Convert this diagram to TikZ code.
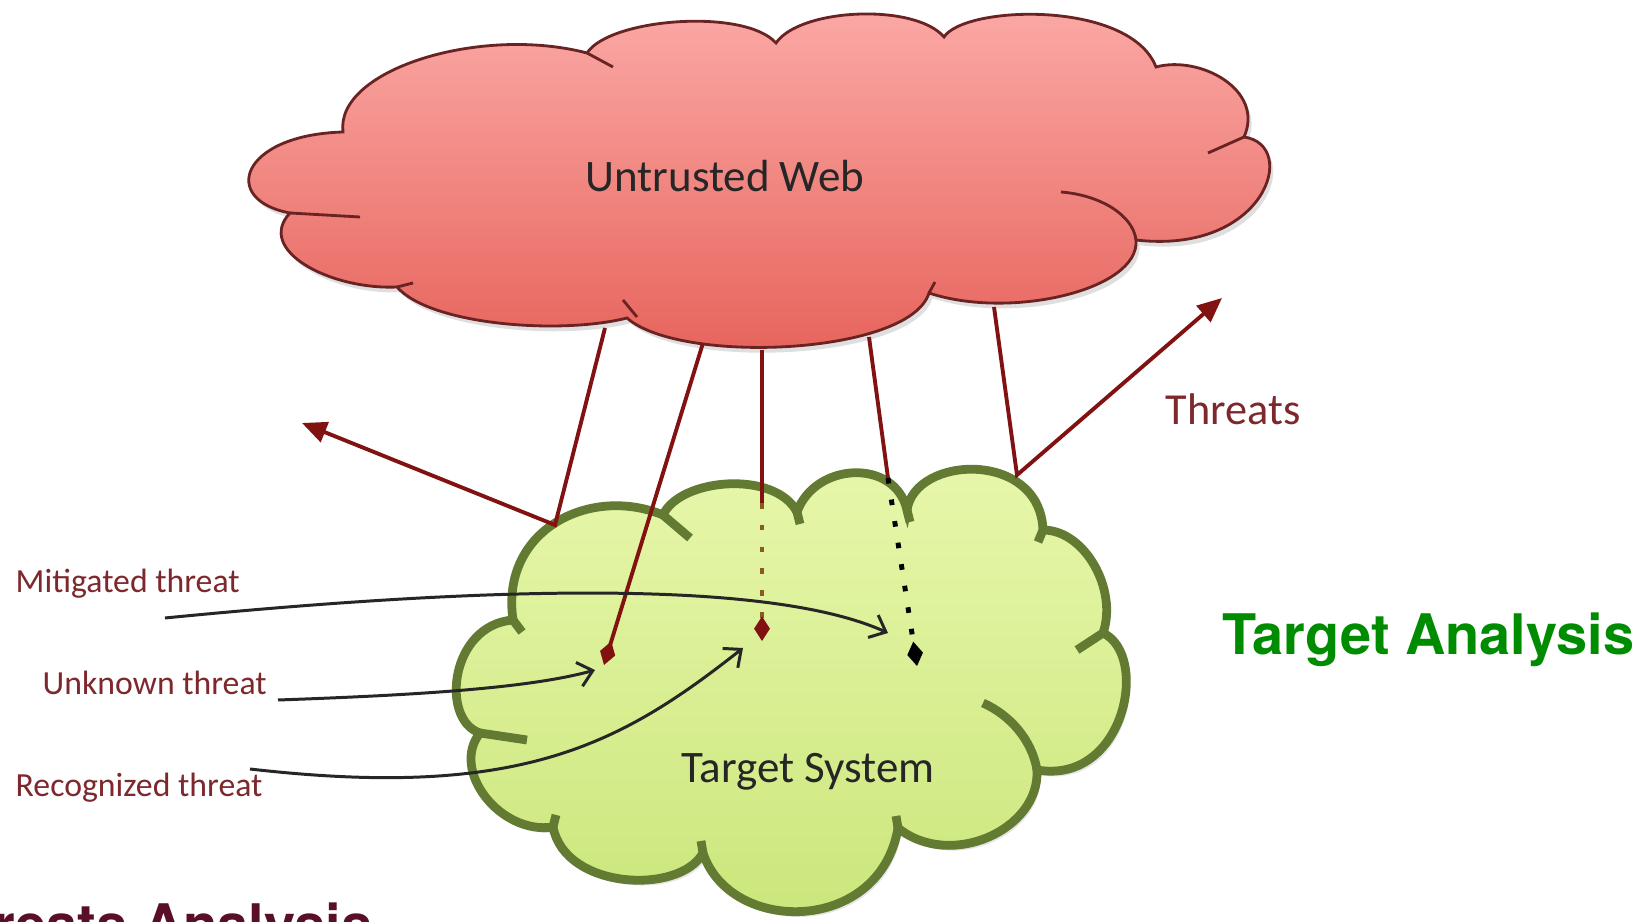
\documentclass[tikz,border=0pt]{standalone}
\usepackage{fontspec}
\setmainfont{Carlito}
\newfontfamily\headfont{TeX Gyre Heros}
\usetikzlibrary{arrows.meta, shadows}
\definecolor{webline}{RGB}{105,35,35}
\definecolor{webtop}{RGB}{251,170,167}
\definecolor{webbottom}{RGB}{230,98,90}
\definecolor{sysline}{RGB}{98,122,50}
\definecolor{systop}{RGB}{232,247,172}
\definecolor{sysbottom}{RGB}{202,230,122}
\definecolor{threatred}{RGB}{130,18,18}
\definecolor{labelred}{RGB}{125,40,45}
\definecolor{titlegreen}{RGB}{0,140,0}
\definecolor{titlemaroon}{RGB}{90,15,40}
\tikzset{
    webcloud/.style={draw=webline, line width=0.8pt, top color=webtop, bottom color=webbottom, drop shadow={opacity=0.25, shadow xshift=1pt, shadow yshift=-1.5pt}},
    syscloud/.style={draw=sysline, line width=2.5pt, top color=systop, bottom color=sysbottom, drop shadow={opacity=0.2, shadow xshift=1pt, shadow yshift=-1.5pt}},
    webcurl/.style={draw=webline, line width=0.8pt},
    syscurl/.style={draw=sysline, line width=2.5pt},
    threat/.style={draw=threatred, line width=1.1pt},
    threatarrow/.style={threat, -{Triangle[length=7pt, width=6pt]}},
    threatend/.style={-{Diamond[length=7pt, width=4.5pt]}},
    pointer/.style={draw=black!85, line width=0.85pt, -{Straight Barb[length=4pt, width=7pt]}},
}

\begin{document}
\begin{tikzpicture}[
        x=0.01cm, y=-0.01cm,
        bigtext/.style={font=\fontsize{12.8}{15}\selectfont, text=black!85, inner sep=0pt},
        labeltext/.style={font=\fontsize{9.6}{11}\selectfont, text=labelred, inner sep=0pt},
        headtext/.style={font=\headfont\bfseries\fontsize{15.9}{18}\selectfont, inner sep=0pt}
    ]
        \useasboundingbox (0,0) rectangle (1648,922);
        \fill[white] (0,0) rectangle (1648,922);

        % Clouds
        \draw[webcloud] (343,132)
            .. controls (335,70) and (480,25) .. (587,53)
            .. controls (610,18) and (745,8) .. (776,43)
            .. controls (800,8) and (915,3) .. (944,37)
            .. controls (965,5) and (1130,0) .. (1156,67)
            .. controls (1200,55) and (1265,90) .. (1244,137)
            .. controls (1300,145) and (1265,255) .. (1136,240)
            .. controls (1140,290) and (1010,320) .. (929,293)
            .. controls (910,355) and (680,365) .. (627,318)
            .. controls (560,335) and (430,325) .. (397,287)
            .. controls (330,290) and (255,250) .. (290,213)
            .. controls (220,200) and (240,135) .. (343,132) -- cycle;
        \draw[webcurl] (587,53) -- (613,67);
        \draw[webcurl] (1244,137) -- (1208,153);
        \draw[webcurl] (1136,240) .. controls (1133,215) and (1100,195) .. (1061,192);
        \draw[webcurl] (929,293) -- (935,282);
        \draw[webcurl] (623,300) -- (637,317);
        \draw[webcurl] (397,287) -- (413,283);
        \draw[webcurl] (290,213) -- (360,217);

        \draw[syscloud] (663,515)
            .. controls (680,478) and (775,470) .. (797,512)
            .. controls (815,462) and (895,458) .. (907,510)
            .. controls (915,455) and (1040,450) .. (1043,530)
            .. controls (1085,530) and (1118,590) .. (1103,633)
            .. controls (1150,655) and (1125,785) .. (1037,770)
            .. controls (1040,830) and (950,870) .. (898,828)
            .. controls (880,935) and (730,935) .. (703,853)
            .. controls (680,895) and (565,890) .. (553,827)
            .. controls (500,835) and (450,770) .. (480,733)
            .. controls (440,720) and (450,625) .. (513,620)
            .. controls (500,530) and (590,485) .. (663,515) -- cycle;
        \draw[syscurl] (663,515) -- (690,538);
        \draw[syscurl] (1103,633) -- (1077,650);
        \draw[syscurl] (1037,770) .. controls (1032,740) and (1010,715) .. (983,703);
        \draw[syscurl] (480,733) -- (527,740);
        \draw[syscurl] (797,512) -- (800,524);
        \draw[syscurl] (907,510) -- (910,522);
        \draw[syscurl] (1043,530) -- (1038,542);
        \draw[syscurl] (898,828) -- (896,816);
        \draw[syscurl] (703,853) -- (701,841);
        \draw[syscurl] (553,827) -- (556,815);
        \draw[syscurl] (513,620) -- (522,632);

        % Nodes
        \node[bigtext, anchor=base] (web) at (725,192) {Untrusted Web};
        \node[bigtext, anchor=base] (target) at (808,783) {Target System};
        \node[labeltext, font=\fontsize{12.6}{15}\selectfont, anchor=base west] (threats) at (1165,425) {Threats};
        \node[labeltext, anchor=base west] (mitigated) at (15,593) {Mitigated threat};
        \node[labeltext, anchor=base west] (unknown) at (42,695) {Unknown threat};
        \node[labeltext, anchor=base west] (recognized) at (15,797) {Recognized threat};
        \node[headtext, text=titlegreen, anchor=base west] (targetanalysis) at (1222,655) {Target Analysis};
        \node[headtext, text=titlemaroon, anchor=base east] (threatsanalysis) at (373,945) {Threats Analysis};

        \coordinate (w1) at (605,328);
        \coordinate (w2) at (703,343);
        \coordinate (w3) at (762,350);
        \coordinate (w4) at (869,337);
        \coordinate (w5) at (994,307);
        \coordinate (j1) at (555,525);
        \coordinate (j5) at (1017,475);
        \coordinate (out1) at (302,423);
        \coordinate (out5) at (1222,298);
        \coordinate (hit2) at (604,665);
        \coordinate (break3) at (762,503);
        \coordinate (hit3) at (762,641);
        \coordinate (break4) at (888,478);
        \coordinate (hit4) at (917,666);
        \coordinate (mstart) at (165,618);
        \coordinate (ustart) at (278,700);
        \coordinate (rstart) at (250,769);
        \coordinate (mtip) at (888,633);
        \coordinate (utip) at (595,670);
        \coordinate (rtip) at (743,648);

        % Connections
        \draw[threatarrow] (w1) -- (j1) -- (out1);
        \draw[threatarrow] (w5) -- (j5) -- (out5);
        \draw[threat, threatend] (w2) -- (hit2);
        \draw[threat] (w3) -- (break3);
        \draw[-{Diamond[length=7pt, width=4.5pt, color=threatred]}, draw={rgb,255:red,140;green,90;blue,30}, line width=1.4pt, dash pattern=on 1.6pt off 4.6pt] (break3) -- (hit3);
        \draw[threat] (w4) -- (break4);
        \draw[threatend, draw=black, line width=1.4pt, dash pattern=on 1.6pt off 4.6pt] (break4) -- (hit4);

        \draw[pointer] (mstart) .. controls (450,590) and (760,575) .. (mtip);
        \draw[pointer] (ustart) .. controls (420,695) and (530,688) .. (utip);
        \draw[pointer] (rstart) .. controls (520,800) and (620,745) .. (rtip);
    \end{tikzpicture}
\end{document}
